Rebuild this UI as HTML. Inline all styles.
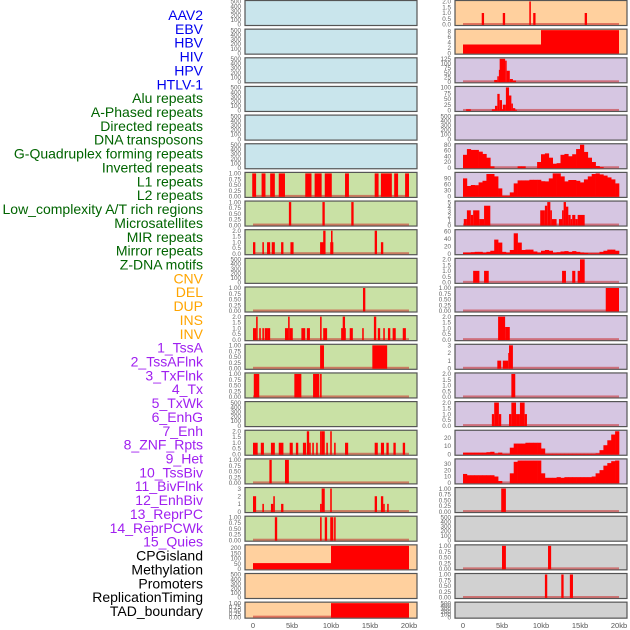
<!DOCTYPE html>
<html><head><meta charset="utf-8">
<style>
html,body{margin:0;padding:0;background:#fff;}
svg{display:block;font-family:"Liberation Sans",sans-serif;}
</style></head>
<body>
<svg id="chart" width="630" height="630" viewBox="0 0 630 630" xmlns="http://www.w3.org/2000/svg">
<g id="labels"></g>
<g id="panels"></g>
<g id="xaxes"></g>
</svg>
<script>
// ---------- labels ----------
const labelNames = ["AAV2","EBV","HBV","HIV","HPV","HTLV-1","Alu repeats","A-Phased repeats","Directed repeats","DNA transposons","G-Quadruplex forming repeats","Inverted repeats","L1 repeats","L2 repeats","Low_complexity A/T rich regions","Microsatellites","MIR repeats","Mirror repeats","Z-DNA motifs","CNV","DEL","DUP","INS","INV","1_TssA","2_TssAFlnk","3_TxFlnk","4_Tx","5_TxWk","6_EnhG","7_Enh","8_ZNF_Rpts","9_Het","10_TssBiv","11_BivFlnk","12_EnhBiv","13_ReprPC","14_ReprPCWk","15_Quies","CPGisland","Methylation","Promoters","ReplicationTiming","TAD_boundary"];
const labelGroups = [6,13,5,15,5];
const xTickLabels = ["0","5kb","10kb","15kb","20kb"];
const xTickValues = [0,5,10,15,20];

// ---------- tick label sets ----------
const T500 = ["0","100","200","300","400","500"];
const T1 = ["0.00","0.25","0.50","0.75","1.00"];
const T2 = ["0.0","0.5","1.0","1.5","2.0"];
const T3 = ["0","1","2","3"];
const T8 = ["0","2","4","6","8"];
const T125 = ["0","25","50","75","100","125"];
const T100 = ["0","25","50","75","100"];
const T80 = ["0","20","40","60","80"];
const T90 = ["0","30","60","90"];
const T5 = ["0","1","2","3","4","5"];
const T60 = ["0","20","40","60"];
const T20 = ["0","10","20"];
const T30 = ["0","10","20","30"];
const T200 = ["0","50","100","150","200"];

// ---------- middle column bars [startKb,endKb,value] ----------
const mid6 = [[-0.1,0.4,1],[1.1,1.6,1],[2.2,2.8,1],[3.3,4.1,1],[6.7,7.5,1],[7.9,8.8,1],[9.2,10.1,1],[11.8,12.3,1],[15.6,16.1,1],[16.4,17.8,1],[18.1,18.6,1],[19.5,20,1]];
const mid7 = [[4.6,4.9,1],[8.9,9.2,1],[12.6,12.9,1]];
const mid8 = [[0,0.3,1],[1.2,1.4,1],[1.8,2.2,1],[2.4,2.8,1],[3.6,3.9,1],[4.8,5.2,1],[8.6,9.1,1],[9.0,9.3,2],[9.9,10.3,1],[10.0,10.2,2],[15.6,15.9,2],[16.4,16.7,1]];
const mid10 = [[14.1,14.4,1]];
const mid11 = [[0,0.4,1],[0.4,0.6,2],[0.8,1.0,1],[1.2,1.4,1],[1.5,1.8,1],[1.8,2.2,1],[4.1,4.5,1],[4.5,4.7,2],[4.7,5.1,1],[6.2,6.7,1],[6.9,7.3,1],[8.6,8.8,2],[9.0,9.5,1],[11.3,11.9,1],[11.5,11.8,2],[12.4,12.8,1],[14.0,14.2,1],[15.5,15.8,2],[16.0,16.3,1],[16.7,16.9,1],[17.3,17.6,1],[17.9,18.3,1],[19.2,19.6,1]];
const mid12 = [[8.6,9.1,1],[15.3,17.2,1]];
const mid13 = [[0.1,0.8,1],[5.3,6.2,1],[7.7,8.5,1],[8.6,8.8,1]];
const mid15 = [[0,0.6,1],[1.0,1.4,1],[2.3,2.8,1],[3.3,3.9,1],[4.7,5.1,1],[5.5,5.8,1],[6.4,6.8,1],[6.9,7.2,2],[7.2,7.4,1],[7.6,7.8,1],[8.1,8.3,1],[8.6,8.8,2],[8.8,9.2,2],[9.4,9.6,1],[9.9,10.1,2],[10.4,10.6,1],[11.8,12.2,1],[15.6,16.0,1],[16.4,16.8,1],[17.1,17.4,1],[18.0,18.3,1],[19.2,19.5,1]];
const mid16 = [[2.1,2.4,1],[4.1,4.6,1]];
const mid17 = [[0,0.4,2],[1.2,1.4,1],[2.3,2.6,1],[2.6,2.8,2],[3.6,3.9,1],[8.6,8.8,1],[8.8,9.2,3],[9.9,10.1,3],[15.6,15.9,2],[16.4,16.7,2],[16.7,16.8,1],[17.2,17.4,1]];
const mid18 = [[2.8,3.1,1],[8.6,8.8,1],[9.2,9.5,1],[9.9,10.3,1],[10.4,10.6,1]];
const mid19 = [[0,10,55],[10,20,230]];
const mid21 = [[10,20,1]];

// ---------- right column bars ----------
const rt0 = [[2.4,2.7,1],[5.1,5.4,1],[8.5,8.7,2],[9.0,9.3,1],[15.6,15.9,1]];
const rt1 = [[0,10,3.2],[10,20,9]];
const rt2 = [[4.0,4.4,10],[4.4,4.6,30],[4.6,4.7,65],[4.7,5.4,125],[5.4,5.6,115],[5.6,6.0,60],[6.0,6.4,15],[6.4,6.8,7]];
const rt3 = [[0.4,1.0,5],[3.7,4.1,5],[4.1,4.4,20],[4.4,4.7,72],[4.7,5.0,45],[5.0,5.1,5],[5.1,5.5,25],[5.5,5.9,100],[5.9,6.2,65],[6.2,6.4,30],[6.4,6.7,10],[6.7,6.9,3]];
const rt7 = [[0.1,0.5,1.3],[0.5,1.0,3.2],[1.0,1.3,2.2],[1.3,2.1,3.2],[2.1,2.7,1.3],[2.7,3.5,4.2],[9.9,10.5,3.2],[10.5,10.8,4.2],[10.8,11.2,5],[11.2,11.4,3.2],[11.4,12.0,1.3],[12.3,12.7,1.3],[12.7,12.9,3.2],[12.9,13.2,5],[13.2,13.5,4],[13.5,13.8,2.2],[13.8,14.0,1.3],[14.0,14.4,2.2],[14.4,14.7,1.3],[14.7,15.6,2.2]];
const rt9 = [[1.3,2.1,1],[2.7,3.3,1],[12.7,13.2,1],[14.0,14.4,1],[14.7,15.0,1],[15.0,15.6,2]];
const rt10 = [[18.3,20,1]];
const rt11 = [[4.5,5.4,2],[5.4,6.0,1.1]];
const rt12 = [[4.4,4.9,1],[5.1,5.8,1],[5.8,5.9,2],[5.9,6.4,3]];
const rt13 = [[6.2,6.7,2]];
const rt14 = [[3.7,4.0,1],[4.0,4.6,2],[4.6,4.9,1],[5.9,6.2,1],[6.2,6.8,2],[6.8,7.3,1],[7.3,7.9,2],[7.9,8.2,1]];
const rt17 = [[4.9,5.5,1]];
const rt19 = [[5.0,5.5,1],[10.9,11.3,1]];
const rt20 = [[10.5,10.8,1],[12.6,12.9,1],[13.7,14.1,1]];

// ---------- right column profiles (0.5kb bins, 0..20kb) ----------
const rt5Bins = [45,65,62,62,56,48,35,5,0,0,0,0,0,0,5,5,0,0,0,20,47,50,35,14,16,45,48,40,47,65,80,55,35,20,6,2,0,0,0,0];
const rt6Bins = [90,52,57,56,70,78,112,112,100,40,3,3,20,65,80,80,80,83,83,83,76,75,90,115,115,100,75,82,82,78,70,85,100,112,115,110,104,95,85,65];
const rt8Bins = [3,3,4,5,5,3,5,8,38,30,5,3,10,55,30,10,11,11,6,3,8,10,8,3,4,6,7,5,7,5,3,2,1,1,1,5,8,11,11,8];
const rt15Bins = [2,2,2,2,2,2,2.5,3,1,2,0.5,0.5,8,13,13,13,14,14,14,14,7,0.5,0.5,0.5,0.5,0.5,0.5,0.5,0.5,0.5,0.5,0.5,0.5,0.5,1,5,11,17,24,28];
const rt16Bins = [14,12,12,12,12,12,12,12,10,3,0,0,15,33,35,35,35,35,35,35,15,8,8,8,9,8,9,9,9,9,9,9,9,10,15,20,27,31,34,35];

// ---------- panel configs ----------
const BLUE="#c9e5ec", GREEN="#c9e1a5", PEACH="#ffd09e", LAV="#d6c6e2", GRAY="#d1d1d1";
const midPanels = [
 {bg:BLUE,max:500,t:T500},{bg:BLUE,max:500,t:T500},{bg:BLUE,max:500,t:T500},{bg:BLUE,max:500,t:T500},{bg:BLUE,max:500,t:T500},{bg:BLUE,max:500,t:T500},
 {bg:GREEN,max:1,t:T1,b:mid6},{bg:GREEN,max:1,t:T1,b:mid7},{bg:GREEN,max:2,t:T2,b:mid8},{bg:GREEN,max:500,t:T500},
 {bg:GREEN,max:1,t:T1,b:mid10},{bg:GREEN,max:2,t:T2,b:mid11},{bg:GREEN,max:1,t:T1,b:mid12},{bg:GREEN,max:1,t:T1,b:mid13},
 {bg:GREEN,max:500,t:T500},{bg:GREEN,max:2,t:T2,b:mid15},{bg:GREEN,max:1,t:T1,b:mid16},{bg:GREEN,max:3,t:T3,b:mid17},
 {bg:GREEN,max:1,t:T1,b:mid18},{bg:PEACH,max:220,t:T200,b:mid19},{bg:PEACH,max:500,t:T500},{bg:PEACH,max:1,t:T1,b:mid21}
];
const rtPanels = [
 {bg:PEACH,max:2,t:T2,b:rt0},{bg:PEACH,max:8.5,t:T8,b:rt1},{bg:LAV,max:125,t:T125,b:rt2},{bg:LAV,max:100,t:T100,b:rt3},
 {bg:LAV,max:500,t:T500},{bg:LAV,max:80,t:T80,p:rt5Bins},{bg:LAV,max:115,t:T90,p:rt6Bins},{bg:LAV,max:5,t:T5,b:rt7},
 {bg:LAV,max:62,t:T60,p:rt8Bins},{bg:LAV,max:2,t:T2,b:rt9},{bg:LAV,max:1,t:T1,b:rt10},{bg:LAV,max:2,t:T2,b:rt11},
 {bg:LAV,max:3,t:T3,b:rt12},{bg:LAV,max:2,t:T2,b:rt13},{bg:LAV,max:2,t:T2,b:rt14},{bg:LAV,max:28,t:T20,p:rt15Bins},
 {bg:LAV,max:36,t:T30,p:rt16Bins},{bg:GRAY,max:1,t:T1,b:rt17},{bg:GRAY,max:500,t:T500},{bg:GRAY,max:1,t:T1,b:rt19},
 {bg:GRAY,max:1,t:T1,b:rt20},{bg:GRAY,max:500,t:T500}
];

const NS="http://www.w3.org/2000/svg";
function mk(tag, attrs, parent){const e=document.createElementNS(NS,tag);for(const k in attrs)e.setAttribute(k,attrs[k]);parent.appendChild(e);return e;}

// labels
const gl=document.getElementById('labels');
const groupColors=["#0000ee","#006400","#ffa500","#a020f0","#000000"];
let gi=0,cnt=0;
labelNames.forEach((name,i)=>{
  while(cnt>=labelGroups[gi]){cnt=0;gi++;}
  cnt++;
  const t=mk('text',{x:203,y:15+i*13.86+5,'text-anchor':'end','font-size':14,fill:groupColors[gi]},gl);
  
  
  t.textContent=name;
});

const gp=document.getElementById('panels');
function drawPanel(cfg,col,row){
  const x0=col===0?245:455, w=172, top=row*28.65+0.5, h=row===21?16:25;
  const xs=kb=>x0+8+kb*7.8;
  const ys=v=>top+h-1-(Math.min(v,cfg.max)/cfg.max)*(h-2);
  const g=mk('g',{},gp);
  
  
  const bg=mk('rect',{x:x0,y:top,width:w,height:h,fill:cfg.bg,stroke:'#555','stroke-width':1.2},g);
  
  
  const hasData=cfg.b||cfg.p;
  if(hasData){
    const bl=mk('rect',{x:xs(0),y:top+h-2.5,width:xs(20)-xs(0),height:2,fill:'rgba(200,40,40,0.55)'},g);
    
    
  }
  if(cfg.b){cfg.b.forEach(d=>{
    const x1=xs(Math.max(d[0],-1)), x2=xs(Math.min(d[1],21));
    const y=ys(d[2]);
    const r=mk('rect',{x:x1,y:y,width:Math.max(1.5,x2-x1),height:top+h-0.6-y,fill:'#ff0000'},g);
    
    
  });}
  if(cfg.p){cfg.p.forEach((v,i)=>{
    if(v<=0)return;
    const x1=xs(i*0.5), x2=xs((i+1)*0.5), y=ys(v);
    const r=mk('rect',{x:x1,y:y,width:x2-x1+0.3,height:top+h-0.6-y,fill:'#ff0000'},g);
    
    
  });}
  cfg.t.forEach(s=>{
    const v=parseFloat(s);
    const t=mk('text',{x:x0-4,y:ys(v)+2.2,'text-anchor':'end','font-size':6.3,fill:'#666'},g);
    
    
    t.textContent=s;
  });
}
midPanels.forEach((c,i)=>drawPanel(c,0,i));
rtPanels.forEach((c,i)=>drawPanel(c,1,i));

// x axes
const gx=document.getElementById('xaxes');
[245,455].forEach(x0=>{
  xTickValues.forEach((v,i)=>{
    const t=mk('text',{x:x0+8+v*7.8,y:628,'text-anchor':'middle','font-size':7.5,fill:'#555'},gx);
    
    
    t.textContent=xTickLabels[i];
  });
});
</script>
</body></html>
